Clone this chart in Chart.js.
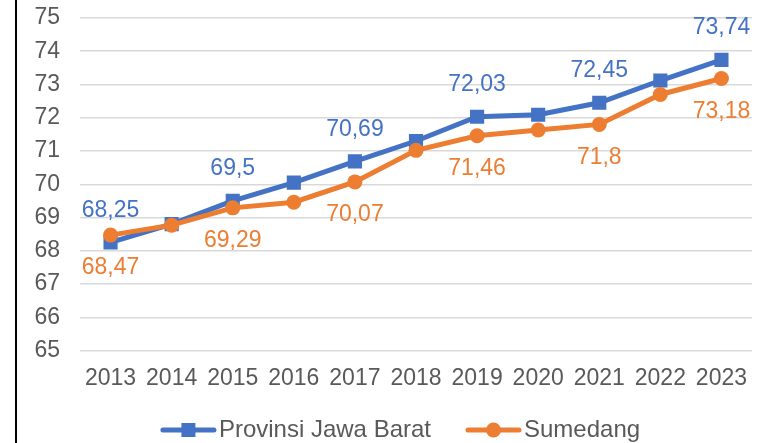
<!DOCTYPE html>
<html>
<head>
<meta charset="utf-8">
<script src="https://cdn.jsdelivr.net/npm/chart.js@4.4.1/dist/chart.umd.min.js"></script>
<style>
html, body { margin: 0; padding: 0; background: #fff; overflow: hidden; }
#wrap { position: relative; width: 774px; height: 443px; overflow: hidden; }
#edge { position: absolute; left: 15px; top: 0; width: 2px; height: 443px; background: #000; }
canvas { position: absolute; left: 0; top: 0; }
</style>
</head>
<body>
<div id="wrap"><canvas id="ipmChart" width="774" height="443"></canvas><div id="edge"></div></div>
<script>
var years = ["2013", "2014", "2015", "2016", "2017", "2018", "2019", "2020", "2021", "2022", "2023"];
var jabarValues = [68.25, 68.80, 69.50, 70.05, 70.69, 71.30, 72.03, 72.09, 72.45, 73.12, 73.74];
var sumedangValues = [68.47, 68.77, 69.29, 69.46, 70.07, 71.02, 71.46, 71.63, 71.80, 72.70, 73.18];
var labelledIdx = [0, 2, 4, 6, 8, 10];

var blue = "#4472C4";
var orange = "#ED7D31";
var grey = "#595959";
var fontFamily = "'Liberation Sans', Arial, sans-serif";

var valueLabels = {
    id: 'valueLabels',
    afterDatasetsDraw: function(chart) {
        var ctx = chart.ctx;
        ctx.save();
        ctx.font = "23px " + fontFamily;
        ctx.textAlign = 'center';
        ctx.textBaseline = 'middle';
        chart.data.datasets.forEach(function(ds, d) {
            var meta = chart.getDatasetMeta(d);
            ctx.fillStyle = ds.borderColor;
            labelledIdx.forEach(function(i) {
                var pt = meta.data[i];
                var txt = String(ds.data[i]).replace('.', ',');
                var dy = ds.labelAbove ? -32 : 33;
                ctx.fillText(txt, pt.x, pt.y + dy);
            });
        });
        ctx.restore();
    }
};

// legend drawn by hand: line with marker, then the name
var lineLegend = {
    id: 'lineLegend',
    afterDraw: function(chart) {
        var ctx = chart.ctx;
        ctx.save();
        ctx.font = "24px " + fontFamily;
        ctx.textBaseline = 'middle';
        var y = 430;
        var iconW = 55, gapText = 3, gapItem = 35;
        var items = chart.data.datasets.map(function(ds) {
            return { ds: ds, w: ctx.measureText(ds.label).width };
        });
        var total = 0;
        items.forEach(function(it, k) {
            total += iconW + gapText + it.w + (k ? gapItem : 0);
        });
        var x = 400.5 - total / 2;
        items.forEach(function(it, k) {
            if (k) x += gapItem;
            var ds = it.ds;
            ctx.strokeStyle = ds.borderColor;
            ctx.fillStyle = ds.borderColor;
            ctx.lineWidth = 5;
            ctx.lineCap = 'round';
            ctx.beginPath(); ctx.moveTo(x + 2, y); ctx.lineTo(x + iconW - 2, y); ctx.stroke();
            var cx = x + iconW / 2;
            if (ds.pointStyle == 'rect') {
                ctx.fillRect(cx - 7, y - 7, 14, 14);
            } else {
                ctx.beginPath(); ctx.arc(cx, y, 7.5, 0, Math.PI * 2); ctx.fill();
            }
            x += iconW + gapText;
            ctx.fillStyle = grey;
            ctx.fillText(ds.label, x, y);
            x += it.w;
        });
        ctx.restore();
    }
};

var options = {
    type: 'line',
    data: {
        labels: years,
        datasets: [{
            label: 'Provinsi Jawa Barat',
            data: jabarValues,
            borderColor: blue,
            backgroundColor: blue,
            borderWidth: 5,
            pointStyle: 'rect',
            pointRadius: 10,
            pointBorderWidth: 0,
            labelAbove: true,
            order: 1
        }, {
            label: 'Sumedang',
            data: sumedangValues,
            borderColor: orange,
            backgroundColor: orange,
            borderWidth: 5,
            pointStyle: 'circle',
            pointRadius: 7.5,
            pointBorderWidth: 0,
            labelAbove: false,
            order: 0
        }]
    },
    options: {
        responsive: false,
        animation: false,
        layout: { padding: { left: 20, right: 22, top: 0, bottom: 34.5 } },
        plugins: {
            tooltip: { enabled: false },
            legend: { display: false }
        },
        scales: {
            x: {
                offset: true,
                grid: { display: false, drawTicks: false },
                border: { display: false },
                ticks: { color: grey, font: { family: fontFamily, size: 23 }, padding: 14, maxRotation: 0 },
                afterFit: function(scale) { scale.height = 58; }
            },
            y: {
                min: 65,
                max: 75,
                grid: { color: '#D9D9D9', lineWidth: 1.5, drawTicks: false },
                border: { display: false },
                ticks: { stepSize: 1, autoSkip: false, color: grey, font: { family: fontFamily, size: 23 }, padding: 20 },
                afterFit: function(scale) { scale.width = 60; scale.paddingTop = 18; }
            }
        }
    },
    plugins: [valueLabels, lineLegend]
};

var ipmChart = new Chart(document.getElementById('ipmChart'), options);
</script>
</body>
</html>
